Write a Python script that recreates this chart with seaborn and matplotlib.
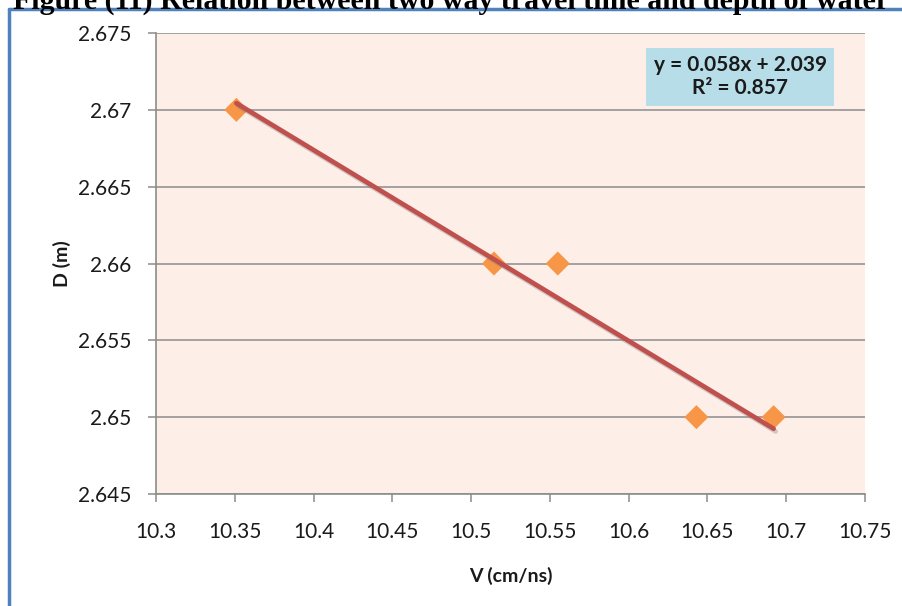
import numpy as np
import pandas as pd
import matplotlib
matplotlib.use("Agg")
import matplotlib.pyplot as plt
import matplotlib.patheffects as pe
import seaborn as sns

# Data
velocity = [10.351, 10.5145, 10.555, 10.643, 10.692]
depth = [2.670, 2.660, 2.660, 2.650, 2.650]
x_ticks = [10.3, 10.35, 10.4, 10.45, 10.5, 10.55, 10.6, 10.65, 10.7, 10.75]
y_ticks = [2.645, 2.65, 2.655, 2.66, 2.665, 2.67, 2.675]
x_tick_labels = ["10.3", "10.35", "10.4", "10.45", "10.5", "10.55", "10.6", "10.65", "10.7", "10.75"]
y_tick_labels = ["2.645", "2.65", "2.655", "2.66", "2.665", "2.67", "2.675"]
equation_text = "y = 0.058x + 2.039\nR² = 0.857"
title_text = "Figure (11) Relation between two way travel time and depth of water"

df = pd.DataFrame({"V": velocity, "D": depth})

sns.set_style("white")
plt.rcParams["font.family"] = ["Lato", "DejaVu Sans"]

fig = plt.figure(figsize=(9.03, 6.06), dpi=100)
ax = fig.add_axes([156 / 903, 1 - 494 / 606, (865 - 156) / 903, (494 - 33) / 606])
ax.set_facecolor("#FDEEE8")

# Trend line (least-squares fit) with shadow
sns.regplot(data=df, x="V", y="D", ci=None, scatter=False, ax=ax,
            line_kws=dict(color="#C0504D", lw=3.4, zorder=3,
                          path_effects=[pe.SimpleLineShadow(offset=(1.5, -2), alpha=0.35, shadow_color="gray"),
                                        pe.Normal()]))
# Points
sns.scatterplot(data=df, x="V", y="D", ax=ax, marker="D", s=150, color="#F79646",
                edgecolor="none", zorder=2)

ax.set_xlim(10.3, 10.75)
ax.set_ylim(2.645, 2.675)
ax.set_xticks(x_ticks)
ax.set_xticklabels(x_tick_labels)
ax.set_yticks(y_ticks)
ax.set_yticklabels(y_tick_labels)
ax.yaxis.grid(True, color="#8C8C8C", lw=1.1)
ax.set_axisbelow(True)
for s in ["top", "right"]:
    ax.spines[s].set_visible(False)
for s in ["left", "bottom"]:
    ax.spines[s].set_color("#8C8C8C")
    ax.spines[s].set_linewidth(1.2)
ax.tick_params(axis="both", which="both", length=6, width=1.1, color="#8C8C8C",
               direction="out", labelsize=15, labelcolor="#1a1a1a", left=True, bottom=True)
ax.tick_params(axis="x", pad=14)
ax.tick_params(axis="y", pad=12)

ax.set_xlabel("V (cm/ns)", fontsize=14, fontweight="bold", labelpad=18, color="#1a1a1a")
ax.set_ylabel("D (m)", fontsize=14, fontweight="bold", labelpad=5, color="#1a1a1a")

# Equation box
ax.text(0.824, 0.905, equation_text, transform=ax.transAxes, ha="center", va="center",
        fontsize=15, fontweight="bold", color="#1a1a1a", linespacing=1.2,
        bbox=dict(boxstyle="square,pad=0.35", facecolor="#B7DDE8", edgecolor="none"))

# Blue frame of chart area
fig.add_artist(plt.Line2D([9 / 903, 9 / 903], [0, 1 - 9 / 606], color="#4F81BD", lw=2.5,
                          transform=fig.transFigure))
fig.add_artist(plt.Line2D([9 / 903, 1], [1 - 9 / 606, 1 - 9 / 606], color="#4F81BD", lw=2.5,
                          transform=fig.transFigure))

# Title at top, partly cut off as in the reference
fig.text(0.5, 1 - 1 / 606, title_text, ha="center", va="center", fontsize=21.5,
         fontweight="bold", family=["Liberation Serif", "DejaVu Serif"], color="black")

fig.savefig("out.png", dpi=100)
